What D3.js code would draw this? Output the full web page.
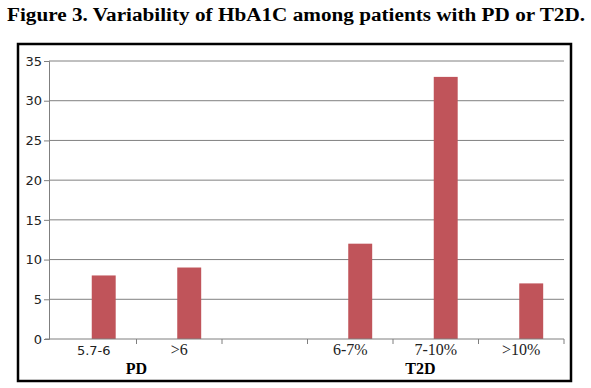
<!DOCTYPE html>
<html>
<head>
<meta charset="utf-8">
<script src="https://cdn.jsdelivr.net/npm/d3@7"></script>
<style>
  body { margin: 0; background: #fff; }
</style>
</head>
<body>
<svg width="591" height="388"></svg>
<script>
// data
const categories = ["5.7-6", ">6", "", "6-7%", "7-10%", ">10%"];
const counts = [8, 9, null, 12, 33, 7];
const yTicks = [0, 5, 10, 15, 20, 25, 30, 35];
const groups = ["PD", "T2D"];

const svg = d3.select("svg");

svg.append("text")
  .attr("x", 7)
  .attr("y", 21)
  .attr("font-family", "Liberation Serif, serif")
  .attr("font-weight", "bold")
  .attr("font-size", 18)
  .attr("textLength", 578)
  .attr("lengthAdjust", "spacingAndGlyphs")
  .text("Figure 3. Variability of HbA1C among patients with PD or T2D.");

// outer frame
svg.append("rect")
  .attr("x", 18)
  .attr("y", 44)
  .attr("width", 553)
  .attr("height", 337)
  .attr("fill", "none")
  .attr("stroke", "#000")
  .attr("stroke-width", 2.5);

const x = d3.scaleBand()
  .domain(categories)
  .range([51, 564]);

const y = d3.scaleLinear()
  .domain([0, 35])
  .range([339, 61]);

// gridlines
svg.append("g")
  .selectAll("line")
  .data(yTicks.filter(d => d > 0))
  .join("line")
  .attr("x1", 49)
  .attr("x2", 564)
  .attr("y1", d => y(d))
  .attr("y2", d => y(d))
  .attr("stroke", "#808080")
  .attr("stroke-width", 1);

// bars
svg.append("g")
  .selectAll("rect")
  .data(categories.map((c, i) => ({ c: c, v: counts[i] })).filter(d => d.v != null))
  .join("rect")
  .attr("x", d => x(d.c) + x.bandwidth() / 2 - 2)
  .attr("y", d => y(d.v))
  .attr("width", x.bandwidth() * 0.28)
  .attr("height", d => y(0) - y(d.v))
  .attr("fill", "#c0545a");

// y axis
const yAxis = svg.append("g")
  .attr("transform", "translate(49,0)")
  .call(d3.axisLeft(y).tickValues(yTicks).tickSize(5).tickPadding(2));
yAxis.selectAll("line, path").attr("stroke", "#7f7f7f");
yAxis.selectAll("text")
  .attr("font-family", "DejaVu Sans, sans-serif")
  .attr("font-size", 13)
  .attr("fill", "#222");

// x axis
const xAxis = svg.append("g")
  .attr("transform", "translate(0,339)");
xAxis.append("line")
  .attr("x1", 45).attr("x2", x.range()[1])
  .attr("stroke", "#7f7f7f");
xAxis.selectAll(".tk")
  .data(categories)
  .join("line")
  .attr("class", "tk")
  .attr("x1", d => x(d) + x.bandwidth())
  .attr("x2", d => x(d) + x.bandwidth())
  .attr("y1", 0).attr("y2", 5)
  .attr("stroke", "#7f7f7f");
xAxis.selectAll(".lbl")
  .data(categories)
  .join("text")
  .attr("class", "lbl")
  .attr("x", d => x(d) + x.bandwidth() / 2)
  .attr("y", 16)
  .attr("text-anchor", "middle")
  .attr("font-family", (d, i) => i == 0 ? "DejaVu Sans, sans-serif" : "Liberation Serif, serif")
  .attr("font-size", (d, i) => i == 0 ? 13 : 16)
  .attr("fill", "#222")
  .text(d => d);

// group labels
svg.append("text")
  .attr("x", x(">6"))
  .attr("y", 374)
  .attr("text-anchor", "middle")
  .attr("font-family", "Liberation Serif, serif")
  .attr("font-weight", "bold")
  .attr("font-size", 16)
  .text(groups[0]);

svg.append("text")
  .attr("x", x("7-10%") + x.bandwidth() * 0.32)
  .attr("y", 374)
  .attr("text-anchor", "middle")
  .attr("font-family", "Liberation Serif, serif")
  .attr("font-weight", "bold")
  .attr("font-size", 16)
  .text(groups[1]);
</script>
</body>
</html>
